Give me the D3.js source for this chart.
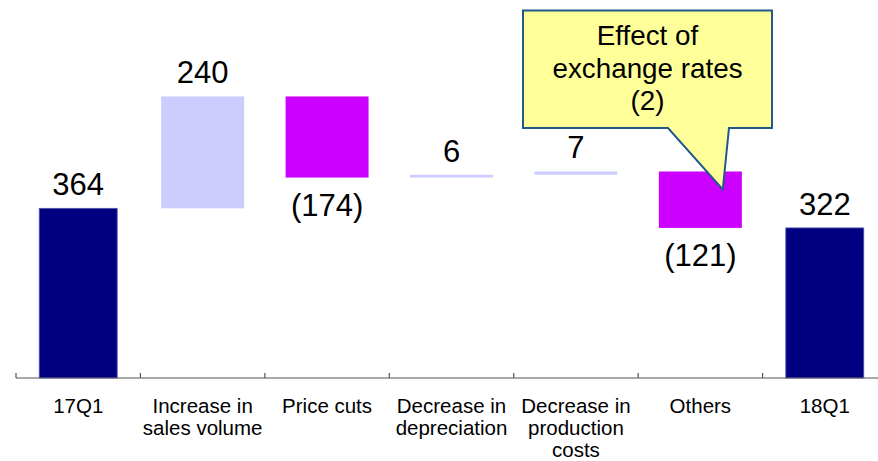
<!DOCTYPE html>
<html>
<head>
<meta charset="utf-8">
<script src="https://cdn.jsdelivr.net/npm/d3@7/dist/d3.min.js"></script>
<style>
  html, body { margin: 0; padding: 0; background: #ffffff; }
  svg { display: block; font-family: "Liberation Sans", Arial, sans-serif; }
</style>
</head>
<body>
<svg id="chart" width="878" height="461"></svg>
<script>
// Operating profit bridge, 17Q1 -> 18Q1
const categories = ["17Q1", "Increase in sales volume", "Price cuts", "Decrease in depreciation",
                    "Decrease in production costs", "Others", "18Q1"];
const categoryLines = [["17Q1"], ["Increase in", "sales volume"], ["Price cuts"],
                       ["Decrease in", "depreciation"], ["Decrease in", "production", "costs"],
                       ["Others"], ["18Q1"]];
const kinds = ["total", "delta", "delta", "delta", "delta", "delta", "total"];
const values = [364, 240, -174, 6, 7, -121, 322];
const valueLabels = ["364", "240", "(174)", "6", "7", "(121)", "322"];
const calloutLines = ["Effect of", "exchange rates", "(2)"];
const calloutCategory = "Others";

const colors = { total: "#000080", up: "#ccccff", down: "#cc00ff" };

// running totals for the floating bars
let running = 0;
const bars = categories.map((c, i) => {
  let y0, y1;
  if (kinds[i] === "total") { y0 = 0; y1 = values[i]; running = values[i]; }
  else { y0 = running; y1 = running + values[i]; running = y1; }
  return { cat: c, lines: categoryLines[i], kind: kinds[i], value: values[i],
           label: valueLabels[i], lo: Math.min(y0, y1), hi: Math.max(y0, y1) };
});

const svg = d3.select("#chart");
const baseY = 378;

const x = d3.scaleBand().domain(categories).range([16, 887])
  .paddingInner(0.333).paddingOuter(0.1665);
const y = d3.scaleLinear().domain([0, 700]).range([baseY, 51.7]);

// bars
const bw = x.bandwidth();
svg.append("g").selectAll("rect").data(bars).join("rect")
  .attr("x", d => x(d.cat) + (d.kind === "total" ? 2.5 : 0))
  .attr("width", d => d.kind === "total" ? bw - 5 : bw)
  .attr("y", d => y(d.hi))
  .attr("height", d => Math.max(2.5, y(d.lo) - y(d.hi)))
  .attr("fill", d => d.kind === "total" ? colors.total : (d.value >= 0 ? colors.up : colors.down))
  .attr("stroke", d => d.kind === "total" ? "#5a5ab8" : "none")
  .attr("stroke-width", 0.8);

// value labels
svg.append("g").selectAll("text").data(bars).join("text")
  .attr("x", d => x(d.cat) + bw / 2)
  .attr("y", d => d.value >= 0 ? y(d.hi) - 13 : y(d.lo) + 38)
  .attr("text-anchor", "middle")
  .attr("font-size", 31)
  .attr("fill", "#000")
  .text(d => d.label);

// category axis: baseline with boundary ticks
const axis = svg.append("g").attr("stroke", "#555").attr("stroke-width", 1.2);
axis.append("line").attr("x1", 16).attr("x2", 878).attr("y1", baseY).attr("y2", baseY);
const bounds = d3.range(categories.length + 1).map(i => 16 + i * x.step());
axis.selectAll("line.tick").data(bounds).join("line").attr("class", "tick")
  .attr("x1", d => d).attr("x2", d => d).attr("y1", baseY).attr("y2", baseY - 5);

const labels = svg.append("g").selectAll("text").data(bars).join("text")
  .attr("text-anchor", "middle").attr("font-size", 20.5).attr("fill", "#000")
  .attr("transform", d => `translate(${x(d.cat) + bw / 2},412.5)`);
labels.selectAll("tspan").data(d => d.lines).join("tspan")
  .attr("x", 0).attr("y", (d, i) => i * 22.3).text(d => d);

// callout for the exchange-rate effect
const ob = bars.find(b => b.cat === calloutCategory);
const tipX = x(ob.cat) + bw * 0.77, tipY = y(ob.hi) + 18;
const box = { l: 523, r: 772, t: 10.5, b: 128 };
const p = d3.path();
p.moveTo(box.l, box.t);
p.lineTo(box.r, box.t);
p.lineTo(box.r, box.b);
p.lineTo(729, box.b);
p.lineTo(tipX, tipY);
p.lineTo(668, box.b);
p.lineTo(box.l, box.b);
p.closePath();
svg.append("path").attr("d", p.toString())
  .attr("fill", "#ffff99").attr("stroke", "#1f5a8a").attr("stroke-width", 2)
  .attr("stroke-linejoin", "miter");
svg.append("g").selectAll("text").data(calloutLines).join("text")
  .attr("x", (box.l + box.r) / 2).attr("y", (d, i) => 45 + i * 32.5)
  .attr("text-anchor", "middle").attr("font-size", 27.8).attr("fill", "#000")
  .text(d => d);
</script>
</body>
</html>
